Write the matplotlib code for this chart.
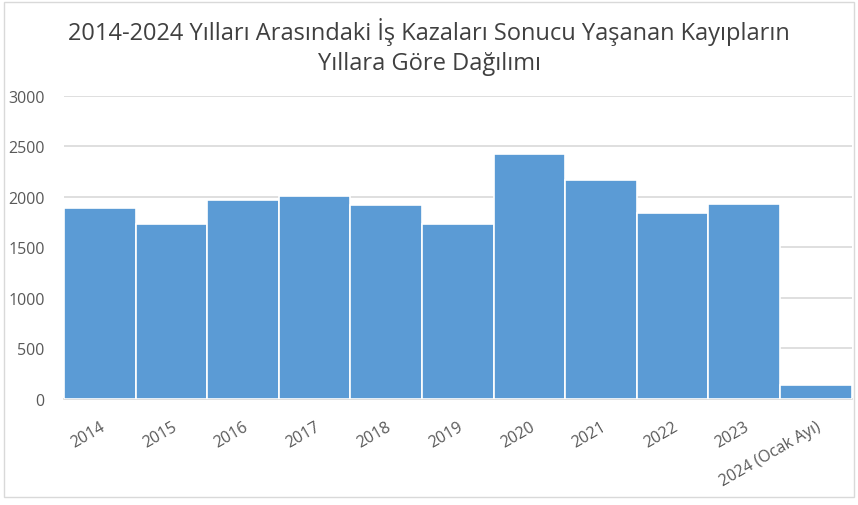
import matplotlib.pyplot as plt
from matplotlib.patches import Rectangle

plt.rcParams['font.family'] = ['Open Sans', 'DejaVu Sans']

years = ['2014', '2015', '2016', '2017', '2018', '2019', '2020', '2021', '2022', '2023', '2024 (Ocak Ayı)']
deaths = [1886, 1730, 1970, 2006, 1923, 1736, 2427, 2170, 1843, 1932, 137]

fig = plt.figure(figsize=(8.58, 5.06), dpi=100)
ax = fig.add_axes([0.0746, 0.2095, 0.918, 0.599])

x = range(len(years))
ax.bar(x, deaths, width=1.0, color='#5B9BD5', edgecolor='#ffffff', linewidth=1.2, zorder=3)

ax.set_xlim(-0.5, len(years) - 0.5)
ax.set_ylim(0, 3000)
ax.set_yticks(range(0, 3001, 500))
ax.yaxis.grid(True, color='#d9d9d9', linewidth=1.2, zorder=0)
ax.tick_params(axis='y', length=0, pad=14, labelsize=11.5, labelcolor='#595959')
ax.tick_params(axis='x', length=0, pad=14, labelsize=11.5, labelcolor='#595959')
ax.set_xticks(list(x))
ax.set_xticklabels(years, rotation=30, ha='right', rotation_mode='anchor')
for s in ['top', 'right', 'left']:
    ax.spines[s].set_visible(False)
ax.spines['bottom'].set_color('#d9d9d9')
ax.spines['bottom'].set_linewidth(1.2)

fig.text(0.5, 0.907, '2014-2024 Yılları Arasındaki İş Kazaları Sonucu Yaşanan Kayıpların\nYıllara Göre Dağılımı',
         ha='center', va='center', fontsize=17, color='#404040', linespacing=1.3)

fig.patches.append(Rectangle((0.005, 0.015), 0.99, 0.98, transform=fig.transFigure,
                             fill=False, edgecolor='#d9d9d9', linewidth=1))

fig.savefig('out.png', dpi=100)
